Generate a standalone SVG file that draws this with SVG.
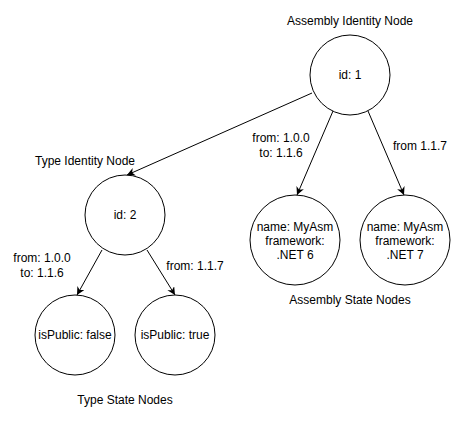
<svg xmlns="http://www.w3.org/2000/svg" width="466" height="421" viewBox="0 0 466 421">
<defs>
<marker id="arr" viewBox="0 0 10 10" refX="10" refY="5" markerWidth="8" markerHeight="8" markerUnits="userSpaceOnUse" orient="auto">
<path d="M0,0 L10,5 L0,10 L3,5 z" fill="#000"/>
</marker>
<style>
text{font-family:"Liberation Sans",Arial,sans-serif;font-size:12px;fill:#000;text-anchor:middle}
circle{fill:#fff;stroke:#000;stroke-width:1}
.e{stroke:#000;stroke-width:1;fill:none;marker-end:url(#arr)}
</style>
</defs>
<rect width="466" height="421" fill="#fff"/>
<g id="connectors">
<line class="e" x1="312" y1="93" x2="127" y2="175"/>
<line class="e" x1="333" y1="111" x2="297" y2="195"/>
<line class="e" x1="368" y1="111" x2="404" y2="195"/>
<line class="e" x1="102" y1="250" x2="77" y2="295"/>
<line class="e" x1="147" y1="250" x2="175" y2="295"/>
</g>
<g id="edge-labels">
<text x="281" y="142">from: 1.0.0</text>
<text x="281" y="157">to: 1.1.6</text>
<text x="420" y="150">from 1.1.7</text>
<text x="42" y="262">from: 1.0.0</text>
<text x="42" y="277">to: 1.1.6</text>
<text x="195" y="270">from: 1.1.7</text>
</g>
<g id="assembly-identity">
<text x="350" y="25">Assembly Identity Node</text>
<circle cx="350" cy="75" r="40"/>
<text x="350" y="79">id: 1</text>
</g>
<g id="type-identity">
<text x="85" y="165">Type Identity Node</text>
<circle cx="125" cy="215" r="40"/>
<text x="125" y="219">id: 2</text>
</g>
<g id="type-state-false">
<circle cx="75" cy="335" r="40"/>
<text x="75" y="339">isPublic: false</text>
</g>
<g id="type-state-true">
<circle cx="175" cy="335" r="40"/>
<text x="175" y="339">isPublic: true</text>
</g>
<g id="assembly-state-6">
<circle cx="295" cy="240" r="45"/>
<text x="295" y="231">name: MyAsm</text>
<text x="295" y="245">framework:</text>
<text x="295" y="259">.NET 6</text>
</g>
<g id="assembly-state-7">
<circle cx="405" cy="240" r="45"/>
<text x="405" y="231">name: MyAsm</text>
<text x="405" y="245">framework:</text>
<text x="405" y="259">.NET 7</text>
</g>
<g id="group-labels">
<text x="350" y="304">Assembly State Nodes</text>
<text x="125" y="404">Type State Nodes</text>
</g>
</svg>
